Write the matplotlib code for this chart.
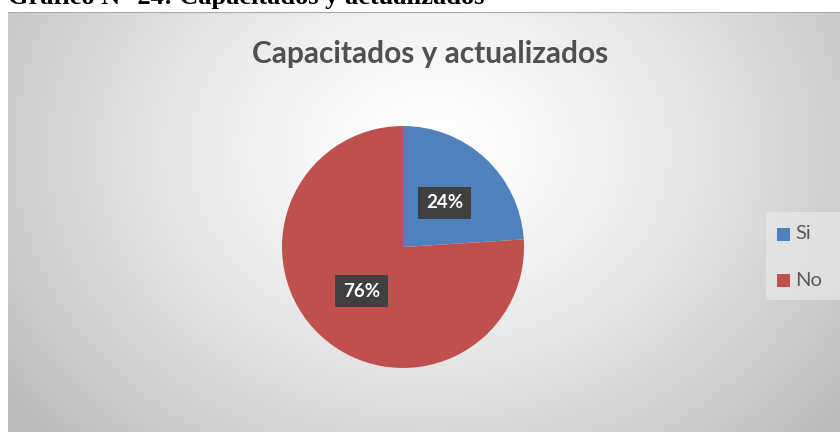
import matplotlib
matplotlib.use("Agg")
import matplotlib.pyplot as plt
import numpy as np
from matplotlib.patches import Rectangle

labels = ["Si", "No"]
values = [24, 76]
colors = ["#4F81BD", "#C0504D"]
title = "Capacitados y actualizados"
header = "Gráfico N° 24: Capacitados y actualizados"

W, H = 840, 432
fig = plt.figure(figsize=(W/100, H/100), dpi=100)
fig.patch.set_facecolor("white")

# header text (partially cut off at top edge, as in the source)
fig.text(8/W, 1 - 4/H, header, fontfamily="Liberation Serif", fontweight="bold",
         fontsize=19, va="baseline", ha="left", color="black")

# background gradient for chart area
x0, y0top = 8, 12
bg = fig.add_axes([x0/W, 0, (W-x0)/W, (H-y0top)/H])
bg.set_axis_off()
gx = np.linspace(x0, W, 400)
gy = np.linspace(y0top, H, 200)
X, Y = np.meshgrid(gx, gy)
d = np.sqrt(((X-430)/520)**2 + ((Y-150)/420)**2)
v = np.clip(1.0 - 0.26*d**1.4, 0.74, 1.0)
img = np.dstack([v, v, v])
bg.imshow(img, extent=[0, 1, 0, 1], aspect="auto", origin="upper")
bg.set_xlim(0, 1); bg.set_ylim(0, 1)
bg.plot([0, 1], [0.999, 0.999], color="#a8a8a8", lw=0.8)

# title
fig.text(430/W, 1 - 63/H, title, fontfamily="Lato", fontweight="bold",
         fontsize=21.5, color="#505050", ha="center", va="baseline")

# pie
cx, cy, r = 403, 247, 121
ax = fig.add_axes([(cx-r)/W, (H-cy-r)/H, 2*r/W, 2*r/H])
ax.set_axis_off()
wedges, texts, autotexts = ax.pie(values, colors=colors, startangle=90, counterclock=False,
                                  radius=1, autopct="%d%%", pctdistance=0.5,
                                  wedgeprops=dict(linewidth=0))
for t in autotexts:
    t.set_color("white")
    t.set_fontweight("bold")
    t.set_fontfamily("Lato")
    t.set_fontsize(13.5)
    t.set_bbox(dict(boxstyle="square,pad=0.42", facecolor="#404040", edgecolor="none"))
ax.set_xlim(-1, 1); ax.set_ylim(-1, 1)

# legend box
fig.patches.append(Rectangle((766/W, 1-300/H), 74/W, 88/H, transform=fig.transFigure,
                             facecolor="#e8e8e8", edgecolor="none", alpha=0.7))
for i, (lab, col) in enumerate(zip(labels, colors)):
    yy = 234 + i*46
    fig.patches.append(Rectangle((777/W, 1-(yy+7)/H), 13/W, 13/H, transform=fig.transFigure,
                                 facecolor=col, edgecolor="none"))
    fig.text(795/W, 1-yy/H, lab, fontfamily="Lato", fontsize=14.5, color="#595959",
             ha="left", va="center")

fig.savefig("out.png", dpi=100)
